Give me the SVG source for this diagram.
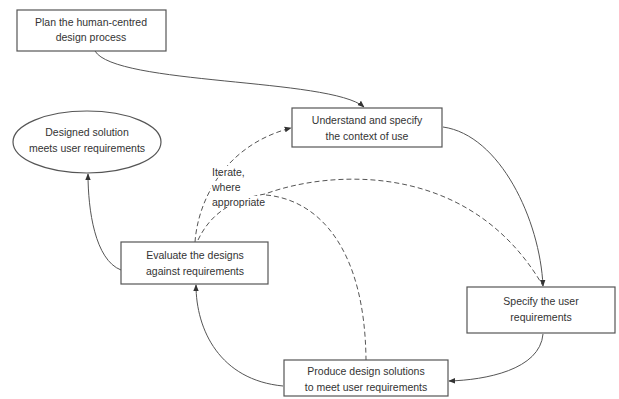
<svg xmlns="http://www.w3.org/2000/svg" width="619" height="399" viewBox="0 0 619 399">
<defs>
<style>
.box{fill:#fff;stroke:#555;stroke-width:1.2}
.t{font-family:"Liberation Sans",Arial,sans-serif;font-size:10.5px;fill:#333;text-anchor:middle}
.lbl{font-family:"Liberation Sans",Arial,sans-serif;font-size:10.5px;fill:#333}
.c{fill:none;stroke:#555;stroke-width:1}
.d{fill:none;stroke:#555;stroke-width:1;stroke-dasharray:5 3}
</style>
<marker id="ah" viewBox="0 0 10 10" refX="9" refY="5" markerWidth="7" markerHeight="7" orient="auto" markerUnits="userSpaceOnUse">
<path d="M0,1 L10,5 L0,9 z" fill="#333"/>
</marker>
</defs>
<rect width="619" height="399" fill="#fff"/>
<g id="connectors">
<path class="c" d="M95,51 C115,85 330,78 364,107" marker-end="url(#ah)"/>
<path class="c" d="M443,127 C500,135 540,220 543,286" marker-end="url(#ah)"/>
<path class="c" d="M543,334 C540,370 485,380 449,381" marker-end="url(#ah)"/>
<path class="c" d="M283,386 C220,380 196,330 196,285" marker-end="url(#ah)"/>
<path class="c" d="M121,270 C95,260 88,210 88,174" marker-end="url(#ah)"/>
<path class="d" d="M195,242 C198,200 225,145 291,128" marker-end="url(#ah)"/>
<path class="d" d="M198,240 C210,215 230,200 265,194 C330,170 470,160 543,286"/>
<path class="d" d="M266,195 C320,200 365,250 366,360"/>
<rect x="211" y="166" width="58" height="8" fill="#fff"/>
<rect x="211" y="181" width="38" height="10" fill="#fff"/>
<rect x="211" y="196" width="56" height="11" fill="#fff"/>
<text class="lbl" x="212" y="176">Iterate,</text>
<text class="lbl" x="212" y="191">where</text>
<text class="lbl" x="212" y="206">appropriate</text>
</g>
<g id="plan">
<rect class="box" x="17" y="10" width="149" height="41"/>
<text class="t" x="91" y="26">Plan the human-centred</text>
<text class="t" x="91" y="41">design process</text>
</g>
<g id="understand">
<rect class="box" x="292" y="108" width="150" height="39"/>
<text class="t" x="367" y="124">Understand and specify</text>
<text class="t" x="367" y="140">the context of use</text>
</g>
<g id="specify">
<rect class="box" x="467" y="287" width="148" height="46"/>
<text class="t" x="541" y="305">Specify the user</text>
<text class="t" x="541" y="321">requirements</text>
</g>
<g id="evaluate">
<rect class="box" x="121" y="242" width="147" height="42"/>
<text class="t" x="195" y="259">Evaluate the designs</text>
<text class="t" x="195" y="275">against requirements</text>
</g>
<g id="produce">
<rect class="box" x="284" y="360" width="164" height="36"/>
<text class="t" x="366" y="375">Produce design solutions</text>
<text class="t" x="366" y="391">to meet user requirements</text>
</g>
<g id="designed">
<ellipse class="box" cx="87" cy="142" rx="74" ry="31"/>
<text class="t" x="87" y="136">Designed solution</text>
<text class="t" x="87" y="152">meets user requirements</text>
</g>
</svg>
